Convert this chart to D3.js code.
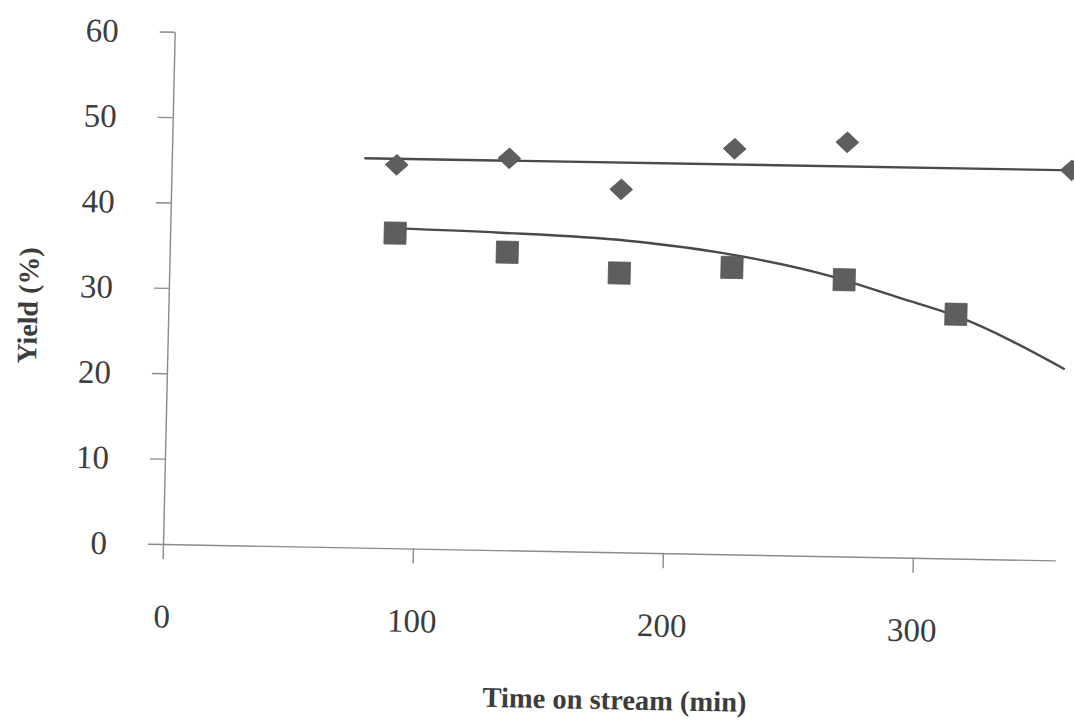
<!DOCTYPE html>
<html>
<head>
<meta charset="utf-8">
<script src="https://cdn.jsdelivr.net/npm/d3@7"></script>
<style>
  html, body { margin: 0; padding: 0; background: #fff; }
  svg { display: block; }
  text { font-family: "Liberation Serif", "Times New Roman", serif; fill: #3c3c3c; }
</style>
</head>
<body>
<script>
// Yield vs. time on stream
const tickTimes = [0, 100, 200, 300];
const tickYields = [0, 10, 20, 30, 40, 50, 60];

// Diamond series
const timeDiamond  = [90, 135, 180, 225, 270, 360];
const yieldDiamond = [44.9, 45.9, 42.5, 47.5, 48.5, 45.7];

// Square series
const timeSquare  = [90, 135, 180, 225, 270, 315];
const yieldSquare = [36.9, 34.9, 32.7, 33.6, 32.4, 28.6];

// Trend lines
const fitDiamondTime  = [77, 362];
const fitDiamondYield = [45.6, 45.7];
const fitSquareTime  = [90, 132, 183, 226, 263, 293, 315, 359];
const fitSquareYield = [37.45, 37.17, 36.5, 35.05, 32.91, 30.34, 28.4, 22.39];

const W = 1074, H = 723;
const svg = d3.select("body").append("svg").attr("width", W).attr("height", H);

// plot frame: origin at the axes crossing, slightly tilted
const g = svg.append("g")
  .attr("transform", "matrix(0.99983,0.01833,-0.02286,0.99974,163,544)");

const x = d3.scaleLinear().domain([0, 357]).range([0, 892.5]);
const y = d3.scaleLinear().domain([0, 60]).range([0, -512.4]);

const axisColor = "#8a8a8a";

const xAxis = g.append("g")
  .call(d3.axisBottom(x).tickValues(tickTimes).tickSize(15).tickSizeOuter(0).tickPadding(45));
const yAxis = g.append("g")
  .call(d3.axisLeft(y).tickValues(tickYields).tickSize(15).tickSizeOuter(0).tickPadding(41));

[xAxis, yAxis].forEach(a => {
  a.attr("font-size", null).attr("font-family", null);
  a.select(".domain").attr("stroke", axisColor).attr("stroke-width", 1.4);
  a.selectAll(".tick line").attr("stroke", axisColor).attr("stroke-width", 1.4);
  a.selectAll(".tick text").attr("fill", "#3c3c3c").style("font-size", "33px");
});

// trend lines
const lineGen = d3.line().x(d => x(d[0])).y(d => y(d[1]));
g.append("path")
  .datum(d3.zip(fitDiamondTime, fitDiamondYield))
  .attr("d", lineGen)
  .attr("fill", "none").attr("stroke", "#4a4a4a").attr("stroke-width", 2.4);

g.append("path")
  .datum(d3.zip(fitSquareTime, fitSquareYield))
  .attr("d", lineGen.curve(d3.curveMonotoneX))
  .attr("fill", "none").attr("stroke", "#4a4a4a").attr("stroke-width", 2.4);

// markers
const diamondShape = {
  draw(ctx, size) {
    const w = 11.4, h = 10.4;
    ctx.moveTo(0, -h); ctx.lineTo(w, 0); ctx.lineTo(0, h); ctx.lineTo(-w, 0); ctx.closePath();
  }
};
g.append("g").selectAll("path")
  .data(d3.zip(timeDiamond, yieldDiamond))
  .join("path")
  .attr("transform", d => `translate(${x(d[0])},${y(d[1])})`)
  .attr("d", d3.symbol().type(diamondShape).size(1))
  .attr("fill", "#5e5e5e").attr("stroke", "#555").attr("stroke-width", 0.8);

g.append("g").selectAll("path")
  .data(d3.zip(timeSquare, yieldSquare))
  .join("path")
  .attr("transform", d => `translate(${x(d[0])},${y(d[1])})`)
  .attr("d", d3.symbol().type(d3.symbolSquare).size(22 * 22))
  .attr("fill", "#5e5e5e").attr("stroke", "#555").attr("stroke-width", 0.8);

// axis titles
g.append("text")
  .attr("x", 455).attr("y", 157)
  .attr("text-anchor", "middle")
  .style("font-size", "28.5px").style("font-weight", "bold")
  .text("Time on stream (min)");

g.append("text")
  .attr("transform", "translate(-131,-236) rotate(-90)")
  .attr("text-anchor", "middle")
  .style("font-size", "28px").style("font-weight", "bold")
  .text("Yield (%)");
</script>
</body>
</html>
